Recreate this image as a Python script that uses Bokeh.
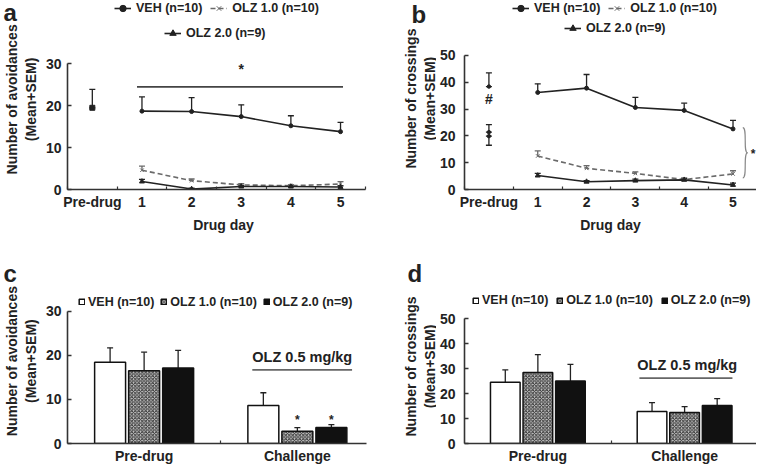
import numpy as np
from bokeh.plotting import figure
from bokeh.models import (ColumnDataSource, Whisker, TeeHead, Legend, LegendItem, Label,
                          FixedTicker, Range1d)
from bokeh.layouts import column, row
from bokeh.embed import file_html
from bokeh.resources import INLINE
from bokeh.core.properties import value

FONT = "Liberation Sans"
INK = "#222222"
GREY = "#6a6a6a"

# ---------------- data ----------------
series_names = ["VEH (n=10)", "OLZ 1.0 (n=10)", "OLZ 2.0 (n=9)"]
day_ticks = [0, 1, 2, 3, 4, 5]
day_labels = ["Pre-drug", "1", "2", "3", "4", "5"]
day_bounds = [-0.5, 0.5, 1.5, 2.5, 3.5, 4.5, 5.5]
days = [1, 2, 3, 4, 5]

# panel a: number of avoidances (mean, SEM)
a_veh = [18.7, 18.6, 17.4, 15.2, 13.8]
a_veh_sem = [3.4, 3.3, 2.8, 2.4, 2.2]
a_olz1 = [4.6, 2.1, 1.1, 0.9, 1.3]
a_olz1_sem = [1.0, 0.4, 0.3, 0.2, 0.6]
a_olz2 = [1.9, 0.1, 0.7, 0.7, 0.6]
a_olz2_sem = [0.5, 0.2, 0.3, 0.3, 0.3]
a_pre_mean = [19.5]
a_pre_sem = [4.4]
a_sig_x = [0.9, 5.05]
a_sig_y = 24.5
a_star = (3, 28.7)

# panel b: number of crossings (mean, SEM)
b_veh = [36.2, 37.8, 30.6, 29.5, 22.6]
b_veh_sem = [3.2, 5.1, 3.8, 2.7, 3.2]
b_olz1 = [12.5, 7.9, 6.0, 3.7, 5.8]
b_olz1_sem = [1.9, 1.0, 0.6, 0.5, 1.2]
b_olz2 = [5.2, 2.9, 3.3, 3.6, 1.7]
b_olz2_sem = [0.8, 0.4, 0.6, 0.5, 0.7]
b_pre_mean = [38.4, 21.4, 19.9]
b_pre_sem = [5.1, 2.8, -3.4]
b_hash = (0, 33.7)
b_brace_x = 5.2
b_brace_y = [4.3, 23.1]
b_star = (5.41, 13.1)

# panels c, d: bars (mean, SEM)
phase_labels = ["Pre-drug", "Challenge"]
phase_pos = [0.5, 1.5]
c_veh = [18.4, 8.6]
c_veh_sem = [3.3, 2.9]
c_olz1 = [16.5, 2.8]
c_olz1_sem = [4.2, 0.8]
c_olz2 = [17.1, 3.6]
c_olz2_sem = [4.0, 0.7]
c_stars_y = 5.4
c_olz_line = ([1.206, 1.857], 16.7)
c_olz_text = (1.532, 19.5)

d_veh = [24.6, 12.8]
d_veh_sem = [4.9, 3.6]
d_olz1 = [28.5, 12.4]
d_olz1_sem = [7.1, 2.4]
d_olz2 = [25.1, 15.2]
d_olz2_sem = [6.6, 2.8]
d_olz_line = ([1.192, 1.826], 26.2)
d_olz_text = (1.518, 31.3)

challenge_text = "OLZ 0.5 mg/kg"
bar_offsets = [-0.222, 0.0, 0.222]
bar_width = 0.202

LINE_STYLES = [dict(color=INK, dash="solid", marker="circle", size=4),
               dict(color=GREY, dash="5 3", marker="x", size=5),
               dict(color=INK, dash="solid", marker="triangle", size=5)]
BAR_FILLS = [dict(fill_color="white"),
             dict(fill_color="#c8c8c8", hatch_pattern="diagonal_cross", hatch_scale=3.5,
                  hatch_color="#333333", hatch_weight=1),
             dict(fill_color="#111111")]


# ---------------- helpers ----------------
def strip(w, h, letter, lx, ly, title, tx, ty):
    p = figure(width=w, height=h, x_range=Range1d(0, w), y_range=Range1d(0, h),
               x_axis_type=None, y_axis_type=None, output_backend="svg",
               toolbar_location=None, min_border=0)
    p.outline_line_color = None
    p.xgrid.visible = False
    p.ygrid.visible = False
    p.add_layout(Label(x=lx, y=ly, text=letter, text_font=FONT, text_font_size="24px",
                       text_font_style="bold", text_color=INK, text_baseline="alphabetic"))
    for txt, x in zip(title, tx):
        p.add_layout(Label(x=x, y=ty, text=txt, angle=np.pi / 2, text_font=FONT,
                           text_font_size="14px", text_font_style="bold", text_color=INK,
                           text_align="center", text_baseline="middle"))
    return p


def main_fig(w, h, xr, yr, left, bottom):
    p = figure(width=w, height=h, x_range=Range1d(*xr), y_range=Range1d(*yr),
               output_backend="svg", toolbar_location=None,
               min_border_left=left, min_border_right=0, min_border_top=0,
               min_border_bottom=bottom)
    p.outline_line_color = None
    p.xgrid.visible = False
    p.ygrid.visible = False
    return p


def style_axes(p, yticks, ybound, xticks, xminor, xlabels, xbound, xlab,
               ytick_std, xtick_std, xlab_std):
    ya = p.yaxis[0]
    ya.ticker = FixedTicker(ticks=yticks)
    ya.bounds = ybound
    ya.major_tick_in = 4
    ya.major_tick_out = 0
    ya.minor_tick_in = 0
    ya.minor_tick_out = 0
    ya.minor_tick_line_color = None
    ya.axis_line_width = 1.6
    ya.axis_line_color = "#333333"
    ya.major_tick_line_color = "#333333"
    ya.major_tick_line_width = 1.3
    ya.major_label_text_font = FONT
    ya.major_label_text_font_style = "bold"
    ya.major_label_text_font_size = "14px"
    ya.major_label_text_color = INK
    ya.major_label_standoff = ytick_std

    xa = p.xaxis[0]
    xa.ticker = FixedTicker(ticks=xticks, minor_ticks=xminor)
    xa.major_label_overrides = {t: l for t, l in zip(xticks, xlabels)}
    xa.bounds = xbound
    xa.major_tick_line_color = None
    xa.major_tick_in = 0
    xa.major_tick_out = 0
    xa.minor_tick_in = 3
    xa.minor_tick_out = 0
    xa.minor_tick_line_color = "#333333"
    xa.minor_tick_line_width = 1.2
    xa.axis_line_width = 1.6
    xa.axis_line_color = "#333333"
    xa.major_label_text_font = FONT
    xa.major_label_text_font_style = "bold"
    xa.major_label_text_font_size = "14px"
    xa.major_label_text_color = INK
    xa.major_label_standoff = xtick_std
    if xlab:
        xa.axis_label = xlab
        xa.axis_label_text_font = FONT
        xa.axis_label_text_font_style = "bold"
        xa.axis_label_text_font_size = "14px"
        xa.axis_label_text_color = INK
        xa.axis_label_standoff = xlab_std


def whisker(p, x, lo, hi, color, lower_head=False):
    src = ColumnDataSource(dict(x=x, lo=lo, hi=hi))
    w = Whisker(base="x", lower="lo", upper="hi", source=src, line_color=color, line_width=1.3,
                upper_head=TeeHead(size=6, line_color=color, line_width=1.3),
                lower_head=TeeHead(size=6, line_color=color, line_width=1.3) if lower_head else None)
    p.add_layout(w)


def series(p, y, sem, st):
    y = np.asarray(y, dtype=float)
    whisker(p, days, y, y + np.asarray(sem), st["color"])
    src = ColumnDataSource(dict(x=days, y=y))
    l = p.line("x", "y", source=src, line_color=st["color"], line_width=1.6,
               line_dash=st["dash"])
    s = p.scatter("x", "y", source=src, marker=st["marker"], size=st["size"],
                  fill_color=st["color"], line_color=st["color"])
    return [l, s]


def legend(p, items, loc, spacing, glyph_w=17, glyph_h=16, standoff=5):
    lg = Legend(items=items, orientation="horizontal", location=loc,
                border_line_color=None, background_fill_alpha=0, padding=0, margin=0,
                spacing=spacing, label_standoff=standoff, glyph_width=glyph_w,
                glyph_height=glyph_h, label_height=16, label_text_font=FONT,
                label_text_font_style="bold", label_text_font_size="12.5px",
                label_text_color=INK)
    p.add_layout(lg)


def mark(p, x, y, txt, size="14px"):
    p.add_layout(Label(x=x, y=y, text=txt, text_font=FONT, text_font_size=size,
                       text_font_style="bold", text_color=INK, text_align="center",
                       text_baseline="middle"))


def note(p, x, y, txt, size="14px"):
    p.text(x=[x], y=[y], text=[txt], text_font=value(FONT), text_font_size=size,
           text_font_style="bold", text_color=INK, text_align="center", text_baseline="middle")


TOP_H, TOP_B = 237, 48
BOT_H, BOT_B = 230, 24

# ---------------- panel a ----------------
sa = strip(42, TOP_H, "a", 3, 222, ["Number of avoidances", "(Mean+SEM)"], [11, 30], 113)
pa = main_fig(337, TOP_H, (-0.5, 5.785), (0, 45.1), 24, TOP_B)
style_axes(pa, [0, 10, 20, 30], (0, 30), day_ticks, day_bounds, day_labels, (-0.5, 5.5),
           "Drug day", 6, 4, 4)
pa.segment(x0=[a_sig_x[0]], y0=[a_sig_y], x1=[a_sig_x[1]], y1=[a_sig_y],
           line_color="#444444", line_width=1.6)
mark(pa, a_star[0], a_star[1], "*")
whisker(pa, [0], a_pre_mean, np.add(a_pre_mean, a_pre_sem), INK, lower_head=True)
pa.scatter([0], a_pre_mean, marker="square", size=5, fill_color=INK, line_color=INK)
ra = [series(pa, v, e, st) for v, e, st in
      zip([a_veh, a_olz1, a_olz2], [a_veh_sem, a_olz1_sem, a_olz2_sem], LINE_STYLES)]
legend(pa, [LegendItem(label=series_names[0], renderers=ra[0]),
            LegendItem(label=series_names[1], renderers=ra[1])], (47, 173), 8)
legend(pa, [LegendItem(label=series_names[2], renderers=ra[2])], (97, 148), 8)

# ---------------- panel b ----------------
sb = strip(57, TOP_H, "b", 32, 220, ["Number of crossings", "(Mean+SEM)"], [31, 50], 114)
pb = main_fig(320, TOP_H, (-0.5, 5.481), (0, 70.5), 25, TOP_B)
style_axes(pb, [0, 10, 20, 30, 40, 50], (0, 50), day_ticks, day_bounds, day_labels,
           (-0.5, 5.5), "Drug day", 9, 4, 4)
pre_m = np.asarray(b_pre_mean)
pre_e = pre_m + np.asarray(b_pre_sem)
whisker(pb, [0, 0, 0], np.minimum(pre_m, pre_e), np.maximum(pre_m, pre_e), INK, lower_head=True)
pb.scatter([0, 0, 0], b_pre_mean, marker="circle", size=3.5, fill_color=INK, line_color=INK)
note(pb, b_hash[0], b_hash[1], "#")
rb = [series(pb, v, e, st) for v, e, st in
      zip([b_veh, b_olz1, b_olz2], [b_veh_sem, b_olz1_sem, b_olz2_sem], LINE_STYLES)]
bx, bw = b_brace_x, 0.1
blo, bhi = b_brace_y
bmid = (blo + bhi) / 2
pb.bezier(x0=[bx, bx], y0=[bhi, blo], x1=[bx + bw, bx + bw], y1=[bmid, bmid],
          cx0=[bx + bw, bx + bw], cy0=[bhi, blo], cx1=[bx, bx], cy1=[bmid, bmid],
          line_color="#888888", line_width=1.2)
mark(pb, b_star[0], b_star[1], "*", size="12px")
legend(pb, [LegendItem(label=series_names[0], renderers=rb[0]),
            LegendItem(label=series_names[1], renderers=rb[1])], (48, 173), 8)
legend(pb, [LegendItem(label=series_names[2], renderers=rb[2])], (100, 153), 8)


# ---------------- bar panels ----------------
def bars(p, groups, sems):
    rs = []
    for vals, sem, off, f in zip(groups, sems, bar_offsets, BAR_FILLS):
        xs = np.asarray(phase_pos) + off
        src = ColumnDataSource(dict(x=xs, top=vals))
        r = p.vbar(x="x", top="top", width=bar_width, bottom=0, source=src,
                   line_color="#111111", line_width=1.5, **f)
        whisker(p, xs, vals, np.add(vals, sem), "#222222")
        rs.append(r)
    return rs


sc = strip(42, BOT_H, "c", 3, 190, ["Number of avoidances", "(Mean+SEM)"], [11, 30], 92)
pc = main_fig(337, BOT_H, (0, 2.036), (0, 46.7), 24, BOT_B)
style_axes(pc, [0, 10, 20, 30], (0, 30), phase_pos, [1.0], phase_labels, (0, 1.95), None,
           6, 4, 5)
rc = bars(pc, [c_veh, c_olz1, c_olz2], [c_veh_sem, c_olz1_sem, c_olz2_sem])
pc.segment(x0=[c_olz_line[0][0]], y0=[c_olz_line[1]], x1=[c_olz_line[0][1]], y1=[c_olz_line[1]],
           line_color="#666666", line_width=1.6)
note(pc, c_olz_text[0], c_olz_text[1], challenge_text, size="14.5px")
for off in bar_offsets[1:]:
    mark(pc, phase_pos[1] + off, c_stars_y, "*", size="12px")
legend(pc, [LegendItem(label=n, renderers=[r]) for n, r in zip(series_names, rc)],
       (11, 133.3), 6, glyph_w=7, glyph_h=7, standoff=3)

sd = strip(57, BOT_H, "d", 28, 190, ["Number of crossings", "(Mean+SEM)"], [31, 50], 86)
pd_ = main_fig(320, BOT_H, (0, 1.99), (0, 82.6), 25, BOT_B)
style_axes(pd_, [0, 10, 20, 30, 40, 50], (0, 50), phase_pos, [1.0], phase_labels, (0, 2.0),
           None, 9, 4, 5)
rd = bars(pd_, [d_veh, d_olz1, d_olz2], [d_veh_sem, d_olz1_sem, d_olz2_sem])
pd_.segment(x0=[d_olz_line[0][0]], y0=[d_olz_line[1]], x1=[d_olz_line[0][1]], y1=[d_olz_line[1]],
            line_color="#666666", line_width=1.6)
note(pd_, d_olz_text[0], d_olz_text[1], challenge_text, size="14.5px")
legend(pd_, [LegendItem(label=n, renderers=[r]) for n, r in zip(series_names, rd)],
       (8, 135), 8, glyph_w=7, glyph_h=7, standoff=3)

layout = column(row(sa, pa, sb, pb), row(sc, pc, sd, pd_))
open("out.html", "w").write(file_html(layout, INLINE))
